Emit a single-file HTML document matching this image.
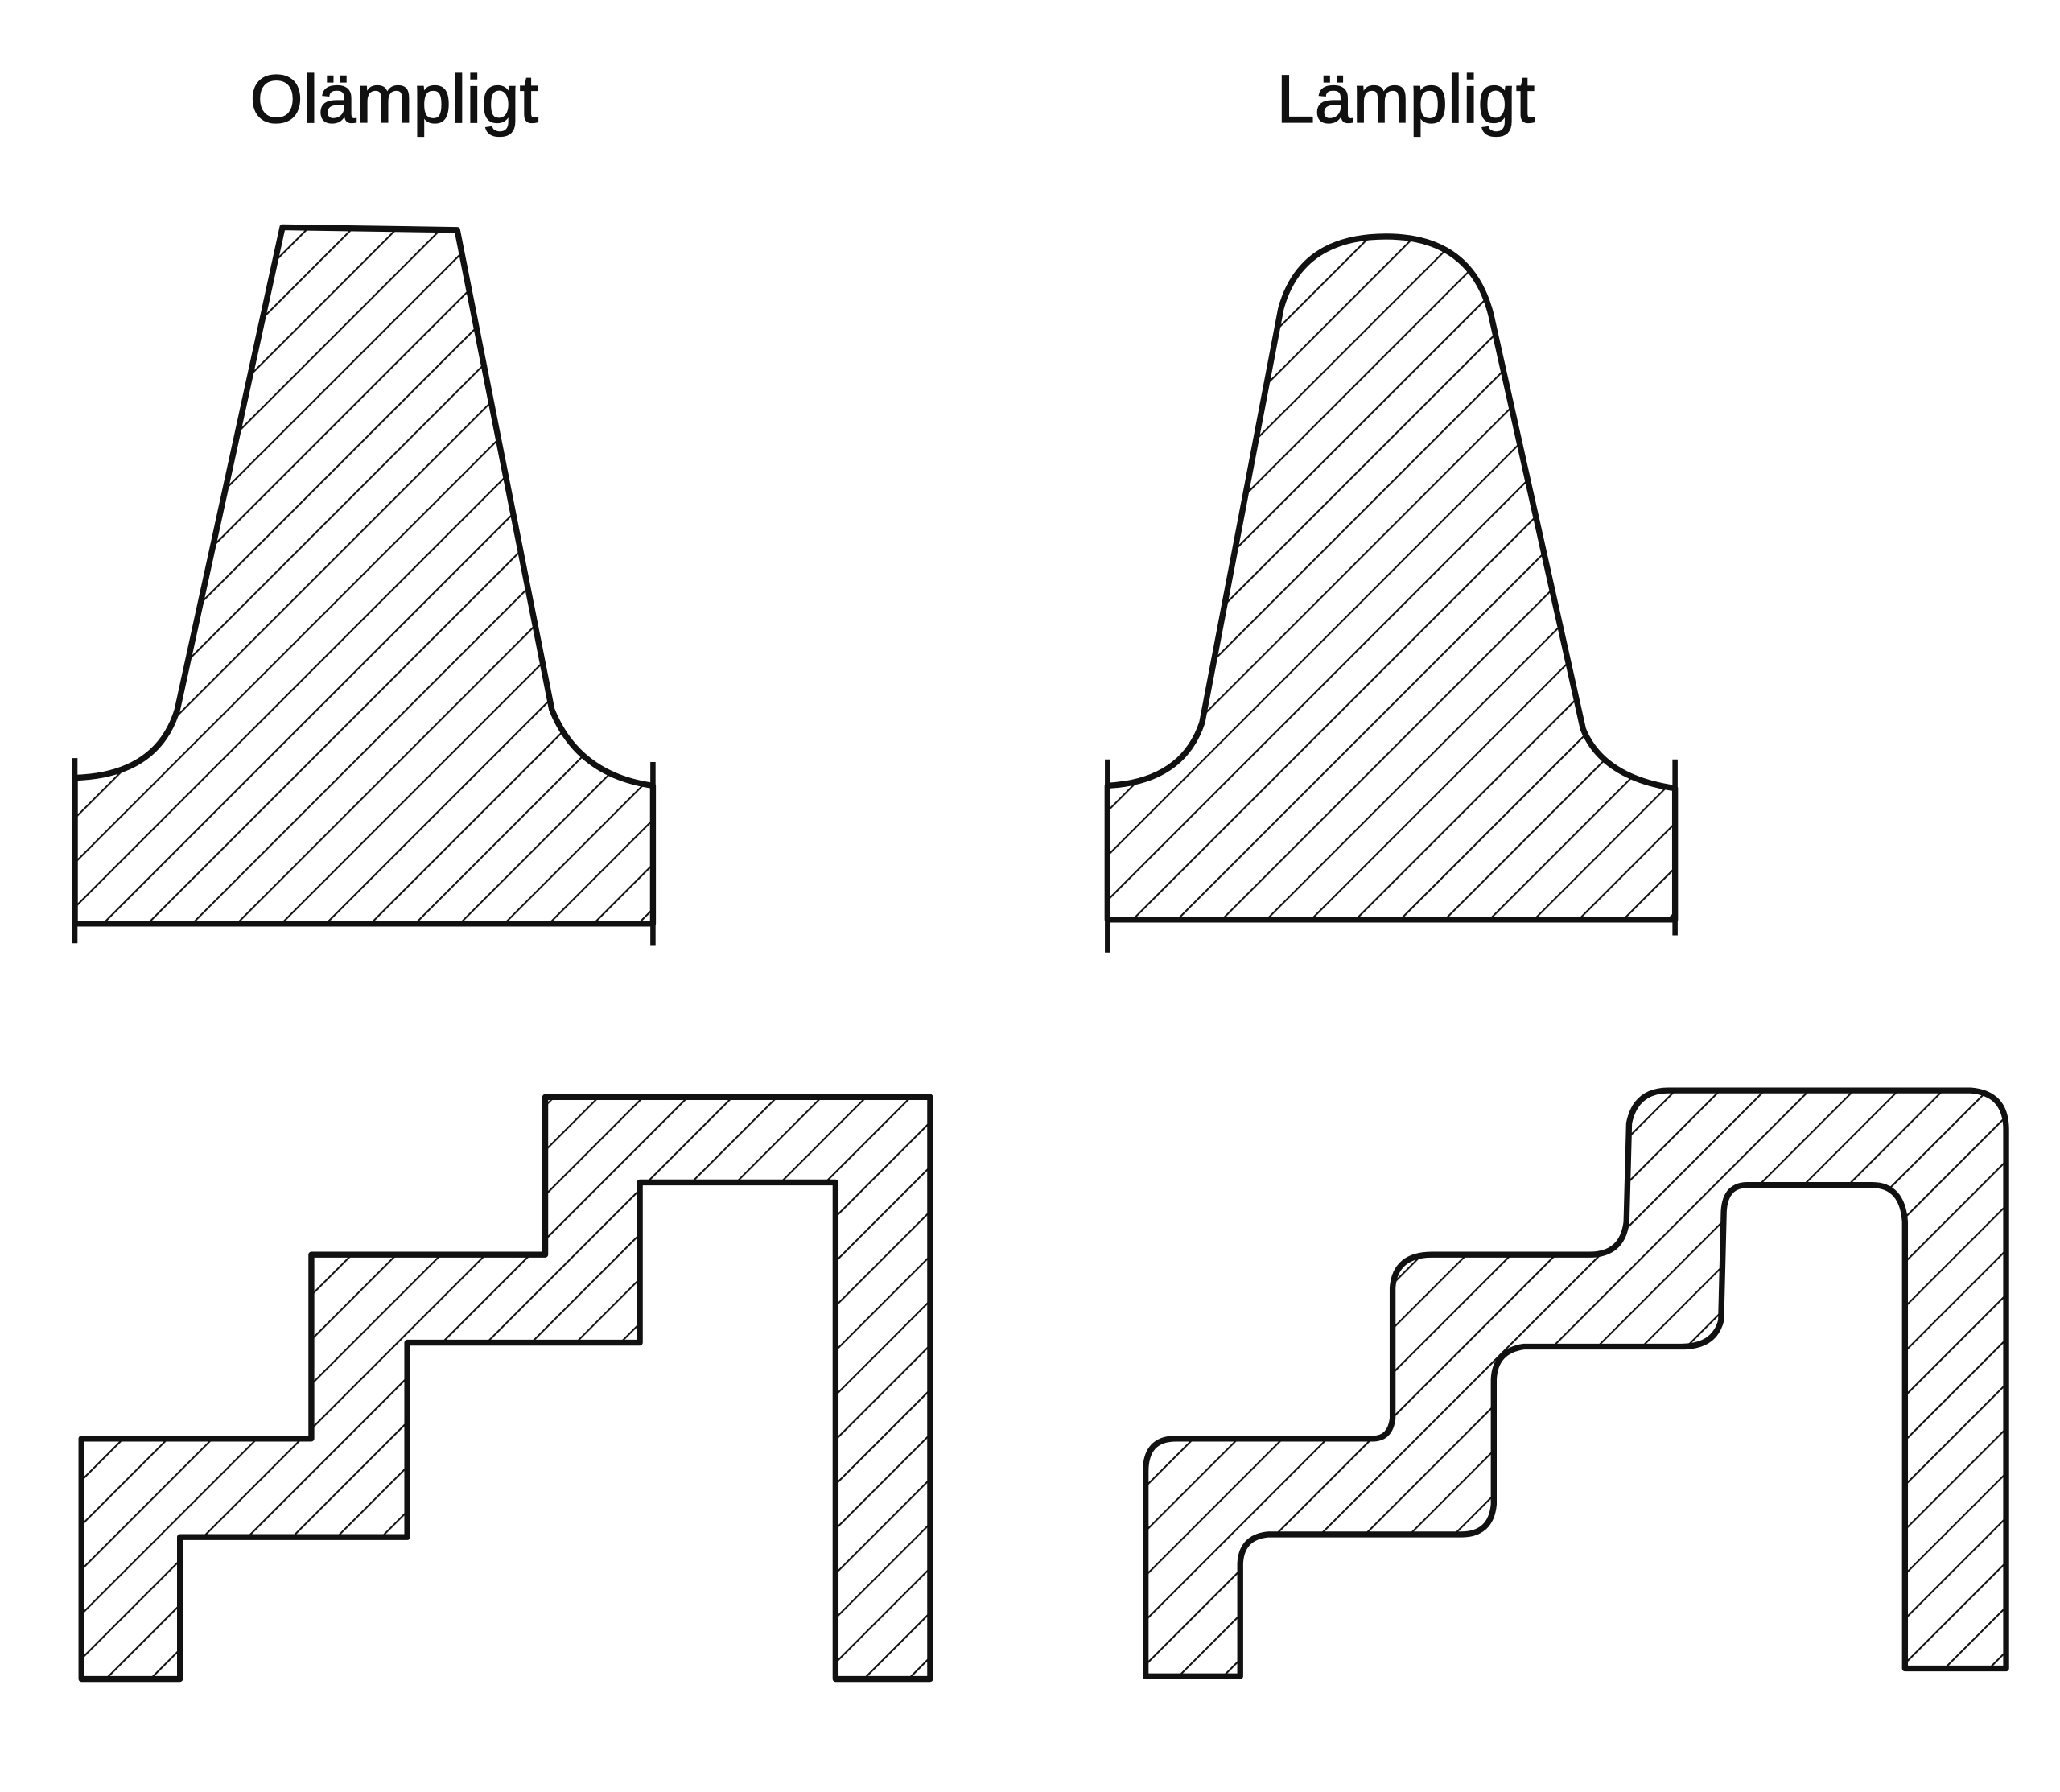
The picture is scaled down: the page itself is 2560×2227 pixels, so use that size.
<!DOCTYPE html>
<html><head><meta charset="utf-8"><style>
html,body{margin:0;padding:0;background:#fff;}
svg{display:block;}
</style></head><body>
<svg width="2560" height="2227" viewBox="0 0 1568 1364" xmlns="http://www.w3.org/2000/svg">
<defs>
<pattern id="h" patternUnits="userSpaceOnUse" width="24" height="24" patternTransform="rotate(45)">
<line x1="0" y1="0" x2="0" y2="24" stroke="#111" stroke-width="2.6"/>
</pattern>
</defs>
<rect width="1568" height="1364" fill="#fff"/>
<text x="300" y="93" font-family="Liberation Sans, sans-serif" font-size="52" text-anchor="middle" fill="#111" stroke="#111" stroke-width="0.8">Olämpligt</text>
<text x="1070" y="93" font-family="Liberation Sans, sans-serif" font-size="52" text-anchor="middle" fill="#111" stroke="#111" stroke-width="0.8">Lämpligt</text>
<g stroke="#111" stroke-width="4.5" fill="url(#h)" stroke-linejoin="round">
<path d="M57,592 Q120,590 135,540 L215,173 L348,175 L420,540 Q440,590 497,598 L497,703 L57,703 Z"/>
<path d="M843,598 Q900,595 915,550 L975,235 Q990,180 1055,180 Q1120,180 1135,240 L1205,555 Q1220,592 1275,600 L1275,700 L843,700 Z"/>
<path d="M62,1095 L237,1095 L237,955 L415,955 L415,835 L708,835 L708,1278 L636,1278 L636,900 L487,900 L487,1022 L310,1022 L310,1170 L137,1170 L137,1278 L62,1278 Z"/>
<path d="M872,1120 Q872,1095 895,1095 L1045,1095 Q1058,1095 1060,1080 L1060,980 Q1062,955 1090,955 L1210,955 Q1235,955 1238,930 L1240,855 Q1245,830 1270,830 L1500,830 Q1527,832 1527,860 L1527,1270 L1450,1270 L1450,930 Q1448,902 1425,902 L1330,902 Q1312,902 1312,925 L1310,1005 Q1305,1025 1280,1025 L1160,1025 Q1138,1028 1137,1050 L1137,1145 Q1135,1168 1112,1168 L965,1168 Q945,1170 944,1190 L944,1276 L872,1276 Z"/>
</g>
<g stroke="#111" stroke-width="4">
<line x1="57" y1="577" x2="57" y2="718"/>
<line x1="497" y1="580" x2="497" y2="720"/>
<line x1="843" y1="578" x2="843" y2="725"/>
<line x1="1275" y1="578" x2="1275" y2="712"/>
</g>
</svg>
</body></html>
